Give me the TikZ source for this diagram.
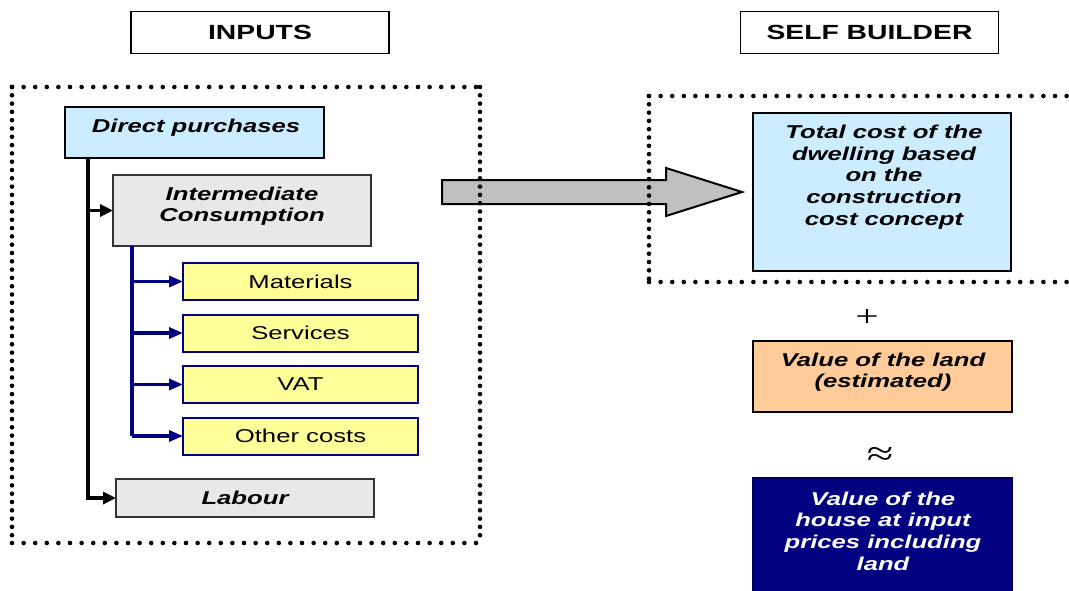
\documentclass[tikz,border=0pt]{standalone}
\usepackage{fontspec}
\setmainfont{Liberation Sans}[FakeStretch=1.38]
\newfontfamily\serifx{Liberation Serif}[FakeStretch=1.38]
\usetikzlibrary{arrows.meta}
\definecolor{lblue}{HTML}{CCECFF}
\definecolor{lgrey}{HTML}{E8E8E8}
\definecolor{lyellow}{HTML}{FFFF99}
\definecolor{lorange}{HTML}{FFCC99}
\definecolor{navy}{HTML}{000080}
\definecolor{agrey}{HTML}{C0C0C0}
\begin{document}
\begin{tikzpicture}[x=1pt,y=-1pt,
  box/.style={rectangle, inner sep=0pt, outer sep=0pt, draw=black, line width=2pt},
  ybox/.style={box, draw=navy, line width=2pt, fill=lyellow, minimum width=235pt, minimum height=37pt,
    font=\fontsize{18.6}{21.6}\selectfont},
  gbox/.style={box, draw=black!80, line width=2.2pt, fill=lgrey},
  hdrfont/.style={font=\fontsize{20.5}{24}\selectfont\bfseries},
  txt/.style={inner sep=0pt, align=center, font=\fontsize{18.6}{21.6}\selectfont\bfseries\itshape},
  hdots/.style={line width=4.6pt, line cap=round, dash pattern=on 0pt off 11.6pt},
  vdots/.style={line width=4.6pt, line cap=round, dash pattern=on 0pt off 8.3pt},
  blk/.style={line width=3.5pt, black},
  blu/.style={line width=3.2pt, navy},
  blktip/.style={-{Triangle[length=13pt,width=12pt]}},
  blutip/.style={-{Triangle[length=14pt,width=11pt]}},
]
\useasboundingbox (0,0) rectangle (1069,590);
\clip (0,0) rectangle (1069,590);
\fill[white] (0,0) rectangle (1069,590);

% headers
\node[box, line width=1.6pt, minimum width=258pt, minimum height=42pt, hdrfont] (inputs) at (260,32.5) {INPUTS};
\node[box, line width=1.6pt, minimum width=258pt, minimum height=42pt, hdrfont] (selfb) at (869.5,32.5) {SELF BUILDER};

% big arrow
\draw[fill=agrey, line width=2pt, line join=miter]
  (442,180) -- (666,180) -- (666,168) -- (742,192) -- (666,216) -- (666,204) -- (442,204) -- cycle;

% left boxes
\node[box, line width=2.6pt, fill=lblue, minimum width=259pt, minimum height=51pt] (dp) at (194.5,132.5) {};
\node[txt, anchor=base] (dpt) at (196,132) {Direct purchases};

\node[gbox, minimum width=258pt, minimum height=71pt] (ic) at (242,210.5) {};
\node[txt] (ict) at (242,206) {Intermediate\\Consumption};

\node[ybox] (mat) at (300.5,281.5) {Materials};
\node[ybox] (ser) at (300.5,333) {Services};
\node[ybox] (vat) at (300.5,384.5) {VAT};
\node[ybox] (oth) at (300.5,436) {Other costs};

\node[gbox, minimum width=258pt, minimum height=38pt, font=\fontsize{18.6}{21.6}\selectfont\bfseries\itshape] (lab) at (245,498) {Labour};

% connectors
\coordinate (trunk) at (88,158);
\draw[blk, blktip] (trunk) |- (lab.west);
\draw[blk, blktip] (trunk |- ic.west) -- (ic.west);
\coordinate (btrunk) at (132,246);
\draw[blu] (btrunk) -- (btrunk |- oth.west);
\draw[blu, blutip] (btrunk |- mat.west) -- (mat.west);
\draw[blu, blutip] (btrunk |- ser.west) -- (ser.west);
\draw[blu, blutip] (btrunk |- vat.west) -- (vat.west);
\draw[blu, blutip] (btrunk |- oth.west) -- (oth.west);

% right boxes
\node[box, fill=lblue, minimum width=258pt, minimum height=158pt] (tc) at (882,192) {};
\node[txt] (tct) at (884,177) {Total cost of the\\dwelling based\\on the\\construction\\cost concept};

\node[font=\serifx\fontsize{30}{30}\selectfont, inner sep=0pt] (plus) at (867,318.5) {+};

\node[box, line width=2.2pt, fill=lorange, minimum width=259pt, minimum height=71pt] (land) at (882.5,376.5) {};
\node[txt] (landt) at (883,372) {Value of the land\\(estimated)};

\node[font=\serifx\fontsize{35}{35}\selectfont, inner sep=0pt] (approx) at (880,456) {≈};

\node[box, draw=navy!70!black, fill=navy, minimum width=259pt, minimum height=130pt] (house) at (882.5,543) {};
\node[txt, text=white] (houset) at (883,531) {Value of the\\house at input\\prices including\\land};

% dotted frames
\draw[hdots] (12,87) -- (480,87);
\draw[hdots] (12,543) -- (480,543);
\draw[vdots] (12,87) -- (12,543);
\draw[vdots] (480,87) -- (480,543);
\draw[hdots] (649,96) -- (1075,96);
\draw[hdots] (649,282) -- (1075,282);
\draw[vdots] (649,96) -- (649,282);
\end{tikzpicture}
\end{document}
